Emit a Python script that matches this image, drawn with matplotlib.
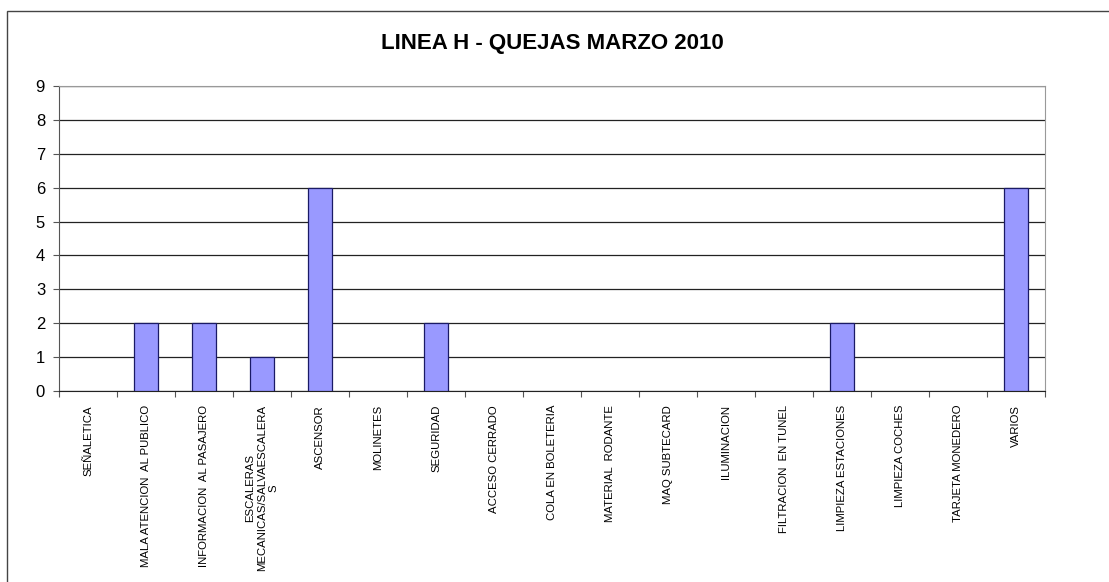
import numpy as np
import matplotlib
matplotlib.use("Agg")
import matplotlib.pyplot as plt
from matplotlib.patches import Rectangle

plt.rcParams['font.family'] = ['Liberation Sans', 'DejaVu Sans']

categorias = ["SEÑALETICA", "MALA ATENCION  AL PUBLICO", "INFORMACION  AL PASAJERO",
              "ESCALERAS\nMECANICAS/SALVAESCALERA\nS", "ASCENSOR", "MOLINETES",
              "SEGURIDAD", "ACCESO CERRADO", "COLA EN BOLETERIA", "MATERIAL  RODANTE",
              "MAQ SUBTECARD", "ILUMINACION", "FILTRACION  EN TUNEL",
              "LIMPIEZA ESTACIONES", "LIMPIEZA COCHES", "TARJETA MONEDERO", "VARIOS"]
quejas = [0, 2, 2, 1, 6, 0, 2, 0, 0, 0, 0, 0, 0, 2, 0, 0, 6]
yticks = list(range(0, 10))

fig = plt.figure(figsize=(11.09, 5.82), dpi=100)
# marco exterior (recortado a la derecha y abajo)
fig.patches.append(Rectangle((7 / 1109, -0.1), 1.2, 1 - 11 / 582 + 0.1,
                             transform=fig.transFigure, fill=False,
                             edgecolor='#444444', lw=1))

ax = fig.add_axes([59 / 1109, 1 - 391 / 582, (1045 - 59) / 1109, (391 - 86) / 582])

x = np.arange(len(categorias)) + 0.5
# las barras en cero no se ven en el original
bordes = [0.9 if v > 0 else 0 for v in quejas]
ax.bar(x, quejas, width=0.41, color='#9999FF', edgecolor='#1a1a66', linewidth=bordes, zorder=3)

ax.set_xlim(0, len(categorias))
ax.set_ylim(0, 9)
ax.set_yticks(yticks)
ax.yaxis.grid(True, color='#222222', lw=0.9, zorder=0)
ax.set_axisbelow(True)

ax.set_xticks(np.arange(len(categorias) + 1))
ax.set_xticklabels([])
ax.set_xticks(x, minor=True)
ax.set_xticklabels(categorias, minor=True, rotation=90, fontsize=8.2,
                   va='top', ha='center', multialignment='center')
ax.tick_params(axis='x', which='major', length=4, direction='out', color='#555555')
ax.tick_params(axis='x', which='minor', length=0, pad=10)
ax.tick_params(axis='y', length=4, labelsize=12, color='#555555', pad=6)

ax.spines['left'].set_color('#555555')
ax.spines['bottom'].set_color('#222222')
ax.spines['right'].set_color('#999999')
ax.spines['top'].set_color('#999999')

fig.text(552 / 1109, 1 - 43 / 582, "LINEA H - QUEJAS MARZO 2010", ha='center', va='center',
         fontsize=16, fontweight='bold')

fig.savefig("out.png", dpi=100)
